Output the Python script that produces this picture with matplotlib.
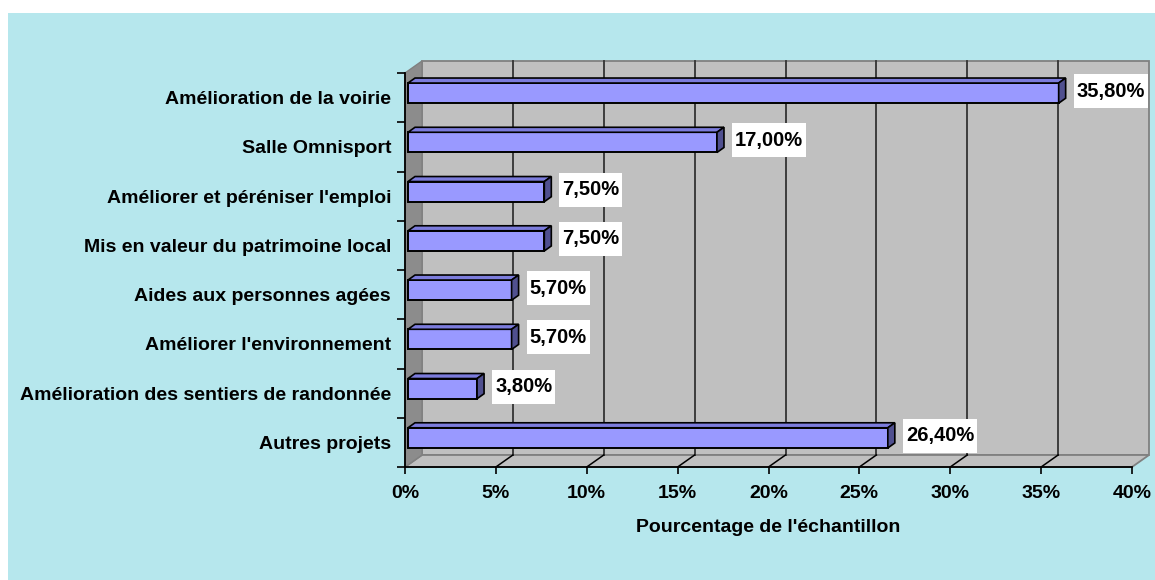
import matplotlib
matplotlib.use("Agg")
import matplotlib.pyplot as plt
import numpy as np
from matplotlib.patches import Polygon, Rectangle
from matplotlib.lines import Line2D
from matplotlib.transforms import ScaledTranslation, IdentityTransform
from matplotlib.path import Path

# ---------------- data ----------------
categories = [
    "Amélioration de la voirie",
    "Salle Omnisport",
    "Améliorer et péréniser l'emploi",
    "Mis en valeur du patrimoine local",
    "Aides aux personnes agées",
    "Améliorer l'environnement",
    "Amélioration des sentiers de randonnée",
    "Autres projets",
]
values = [35.8, 17.0, 7.5, 7.5, 5.7, 5.7, 3.8, 26.4]
value_labels = ["35,80%", "17,00%", "7,50%", "7,50%", "5,70%", "5,70%", "3,80%", "26,40%"]
x_ticks = [0, 5, 10, 15, 20, 25, 30, 35, 40]
x_tick_labels = ["0%", "5%", "10%", "15%", "20%", "25%", "30%", "35%", "40%"]
x_title = "Pourcentage de l'échantillon"

# ---------------- style ----------------
FONT = "Liberation Sans"
FS = 14
FS_VAL = 14.5
BG = "#B6E7ED"
BAR_FRONT = "#9999FF"
BAR_TOP = "#7C7CDC"
BAR_SIDE = "#50508F"
WALL = "#C0C0C0"
LEFT_WALL = "#8C8C8C"
EDGE_GRAY = "#808080"
GRID = "#333333"

W, H = 1155, 580
DPI = 100
fig = plt.figure(figsize=(W / DPI, H / DPI), dpi=DPI, facecolor="white")
plt.rcParams["font.family"] = [FONT, "DejaVu Sans"]

# background area (solid approximation of the texture)
fig.add_artist(Rectangle((8 / W, 0), 1 - 8 / W, 1 - 13 / H, transform=fig.transFigure,
                         facecolor=BG, edgecolor="none", zorder=-10))

# front plane of the 3D box
FX0, FX1, FY0, FY1 = 405, 1132, 73, 467
ax = fig.add_axes([FX0 / W, 1 - FY1 / H, (FX1 - FX0) / W, (FY1 - FY0) / H])
ax.patch.set_visible(False)
n = len(categories)
ax.set_xlim(x_ticks[0], x_ticks[-1])
ax.set_ylim(n - 0.5, -0.5)

depth = np.array([17.0, 12.0])          # box depth in pixels
bar_depth = np.array([7.0, 5.0])        # bar depth in pixels
ident = IdentityTransform()

tA = ax.transAxes
p00 = tA.transform((0, 0)); p01 = tA.transform((0, 1))
p10 = tA.transform((1, 0)); p11 = tA.transform((1, 1))

# back wall
fig.add_artist(Polygon([p00 + depth, p10 + depth, p11 + depth, p01 + depth], closed=True,
                       facecolor=WALL, edgecolor=EDGE_GRAY, lw=1.3, transform=ident, zorder=-5))
# floor
fig.add_artist(Polygon([p00, p10, p10 + depth, p00 + depth], closed=True,
                       facecolor=WALL, edgecolor=EDGE_GRAY, lw=1.3, transform=ident, zorder=-4))
# left wall
fig.add_artist(Polygon([p00, p01, p01 + depth, p00 + depth], closed=True,
                       facecolor=LEFT_WALL, edgecolor=EDGE_GRAY, lw=1.0, transform=ident, zorder=-4))

# gridlines on back wall and floor
xat = ax.get_xaxis_transform()
for t in x_ticks[1:-1]:
    b = xat.transform((t, 0)); tp = xat.transform((t, 1))
    fig.add_artist(Line2D([b[0] + depth[0], tp[0] + depth[0]], [b[1] + depth[1], tp[1] + depth[1]],
                          color=GRID, lw=1.3, transform=ident, zorder=-3))
    fig.add_artist(Line2D([b[0], b[0] + depth[0]], [b[1], b[1] + depth[1]],
                          color="black", lw=1.1, transform=ident, zorder=-3))

# bars (front faces)
bars = ax.barh(range(n), values, height=0.41, color=BAR_FRONT, edgecolor="black",
               linewidth=1.4, zorder=3)
shift = ScaledTranslation(3 / DPI, 4.5 / DPI, fig.dpi_scale_trans)
for p in bars.patches:
    p.set_transform(ax.transData + shift)
    v = p.get_transform().transform(p.get_path().vertices)
    xmin, xmax = v[:, 0].min(), v[:, 0].max()
    ymin, ymax = v[:, 1].min(), v[:, 1].max()
    dx, dy = bar_depth
    top = Polygon([(xmin, ymax), (xmax, ymax), (xmax + dx, ymax + dy), (xmin + dx, ymax + dy)],
                  closed=True, facecolor=BAR_TOP, edgecolor="black", lw=1.2,
                  transform=ident, zorder=3, clip_on=False)
    side = Polygon([(xmax, ymin), (xmax + dx, ymin + dy), (xmax + dx, ymax + dy), (xmax, ymax)],
                   closed=True, facecolor=BAR_SIDE, edgecolor="black", lw=1.2,
                   transform=ident, zorder=3, clip_on=False)
    ax.add_artist(top)
    ax.add_artist(side)


def label_box(x0, y0, width, height, mutation_size):
    px, py = 3.0, 7.5
    verts = [(x0 - px, y0 - py), (x0 + width + px, y0 - py), (x0 + width + px, y0 + height + py),
             (x0 - px, y0 + height + py), (x0 - px, y0 - py)]
    codes = [Path.MOVETO, Path.LINETO, Path.LINETO, Path.LINETO, Path.CLOSEPOLY]
    return Path(verts, codes)


for i, (v, lbl) in enumerate(zip(values, value_labels)):
    ax.annotate(lbl, xy=(v, i), xytext=(21 * 0.72, 6.5 * 0.72), textcoords="offset points",
                ha="left", va="center", fontsize=FS_VAL, fontweight="bold", color="black",
                bbox=dict(boxstyle=label_box, facecolor="white", edgecolor="none"),
                zorder=6, annotation_clip=False)

# axes, ticks and labels
for s in ["top", "right"]:
    ax.spines[s].set_visible(False)
for s in ["left", "bottom"]:
    ax.spines[s].set_color("black")
    ax.spines[s].set_linewidth(1.3)

ax.set_yticks(range(n))
ax.set_yticklabels(categories, fontsize=FS, fontweight="bold")
ax.tick_params(axis="y", which="major", length=0, pad=10)
ax.set_yticks(np.arange(-0.5, n, 1.0), minor=True)
ax.tick_params(axis="y", which="minor", length=6, width=1.2, color="black")

ax.set_xticks(x_ticks)
ax.set_xticklabels(x_tick_labels, fontsize=FS, fontweight="bold")
ax.tick_params(axis="x", which="major", length=5, width=1.2, pad=8, color="black")

ax.set_xlabel(x_title, fontsize=FS, fontweight="bold", va="center")
ax.xaxis.set_label_coords(0.5, -(528 - FY1) / (FY1 - FY0))

fig.savefig("out.png", dpi=DPI, facecolor=fig.get_facecolor())
